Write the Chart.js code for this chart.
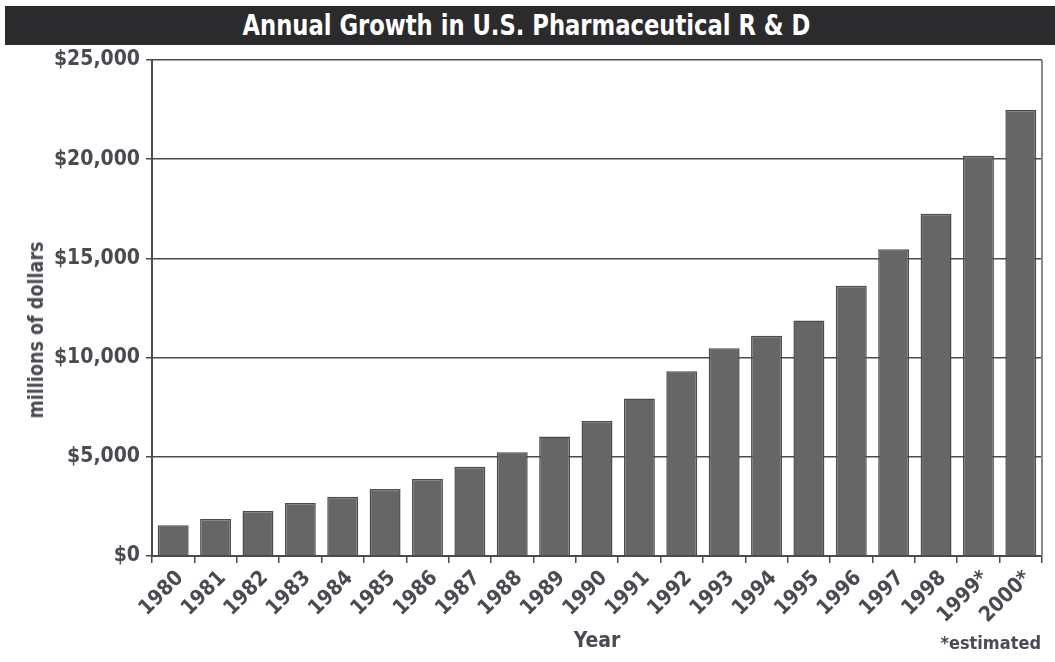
<!DOCTYPE html>
<html>
<head>
<meta charset="utf-8">
<script src="https://cdn.jsdelivr.net/npm/chart.js@4/dist/chart.umd.min.js"></script>
<style>
  html, body { margin: 0; padding: 0; background: #fff; }
  #wrap { position: relative; width: 1055px; height: 662px; }
  #titlebar {
    position: absolute; left: 5px; top: 6px; width: 1050px; height: 39px;
    background: #2b2b2d; color: #fff; text-align: center;
    font: bold 28px "Liberation Sans Narrow", "DejaVu Sans Condensed", sans-serif;
    line-height: 39px;
  }
  #titlebar span { display: inline-block; transform: scaleX(0.9); margin-left: -8px; }
  #ytitle {
    position: absolute; left: 36px; top: 330px; color: #4a4a52; white-space: nowrap;
    font: bold 21px "Liberation Sans Narrow", "DejaVu Sans Condensed", sans-serif;
    transform: translate(-50%, -50%) rotate(-90deg) scaleX(0.93);
  }
  #note {
    position: absolute; right: 14px; top: 632px; color: #4a4a52;
    font: bold 18px "Liberation Sans Narrow", "DejaVu Sans Condensed", sans-serif;
  }
</style>
</head>
<body>
<div id="wrap">
  <canvas id="rdChart" width="1055" height="662"></canvas>
  <div id="titlebar"><span>Annual Growth in U.S. Pharmaceutical R &amp; D</span></div>
  <div id="ytitle">millions of dollars</div>
  <div id="note">*estimated</div>
</div>
<script>
const years = ["1980", "1981", "1982", "1983", "1984", "1985", "1986", "1987", "1988", "1989",
  "1990", "1991", "1992", "1993", "1994", "1995", "1996", "1997", "1998", "1999*", "2000*"];
const spending = [1549, 1870, 2268, 2671, 2982, 3378, 3875, 4504, 5233, 6021,
  6803, 7935, 9312, 10477, 11101, 11874, 13627, 15466, 17250, 20180, 22480];
const yTicks = [0, 5000, 10000, 15000, 20000, 25000];

const FONT = "'Liberation Sans Narrow', 'DejaVu Sans Condensed', sans-serif";
const INK = "#4a4a52";

// right-hand frame line of the plot box
const frame = {
  id: "frame",
  afterDraw(chart) {
    const a = chart.chartArea, ctx = chart.ctx;
    ctx.save();
    ctx.strokeStyle = "#8a8a8e";
    ctx.lineWidth = 2;
    ctx.beginPath();
    ctx.moveTo(a.right, a.top);
    ctx.lineTo(a.right, a.bottom);
    ctx.stroke();
    ctx.restore();
  }
};

var ctx = document.getElementById("rdChart").getContext("2d");
var rdChart = new Chart(ctx, {
  type: "bar",
  data: {
    labels: years,
    datasets: [{
      data: spending,
      backgroundColor: "#666666",
      borderColor: "#4b4b50",
      borderWidth: 1.5,
      barPercentage: 0.73,
      categoryPercentage: 1.0
    }]
  },
  options: {
    responsive: false,
    animation: false,
    layout: { padding: { top: 60, right: 13, left: 0, bottom: 0 } },
    plugins: { legend: { display: false }, tooltip: { enabled: false } },
    scales: {
      x: {
        afterFit: s => { s.height = 106; },
        grid: { offset: true, drawOnChartArea: false, drawTicks: true, tickLength: 7, color: INK, lineWidth: 1.5 },
        border: { display: true, color: INK, width: 2 },
        ticks: {
          minRotation: 45, maxRotation: 45, autoSkip: false, padding: 3, labelOffset: 7,
          color: INK, font: { family: FONT, size: 21, weight: "bold" }
        },
        title: {
          display: true, text: "Year", color: INK, padding: { top: 0, bottom: 8 },
          font: { family: FONT, size: 21, weight: "bold" }
        }
      },
      y: {
        min: 0, max: 25000,
        afterFit: s => { s.width = 152; },
        afterBuildTicks: s => { s.ticks = yTicks.map(v => ({ value: v })); },
        grid: { color: INK, lineWidth: 1.5, tickLength: 6 },
        border: { display: true, color: INK, width: 2 },
        ticks: {
          padding: 6, color: INK,
          font: { family: FONT, size: 21, weight: "bold" },
          callback: v => "$" + v.toLocaleString("en-US")
        },
        title: { display: false }
      }
    }
  },
  plugins: [frame]
});
</script>
</body>
</html>
